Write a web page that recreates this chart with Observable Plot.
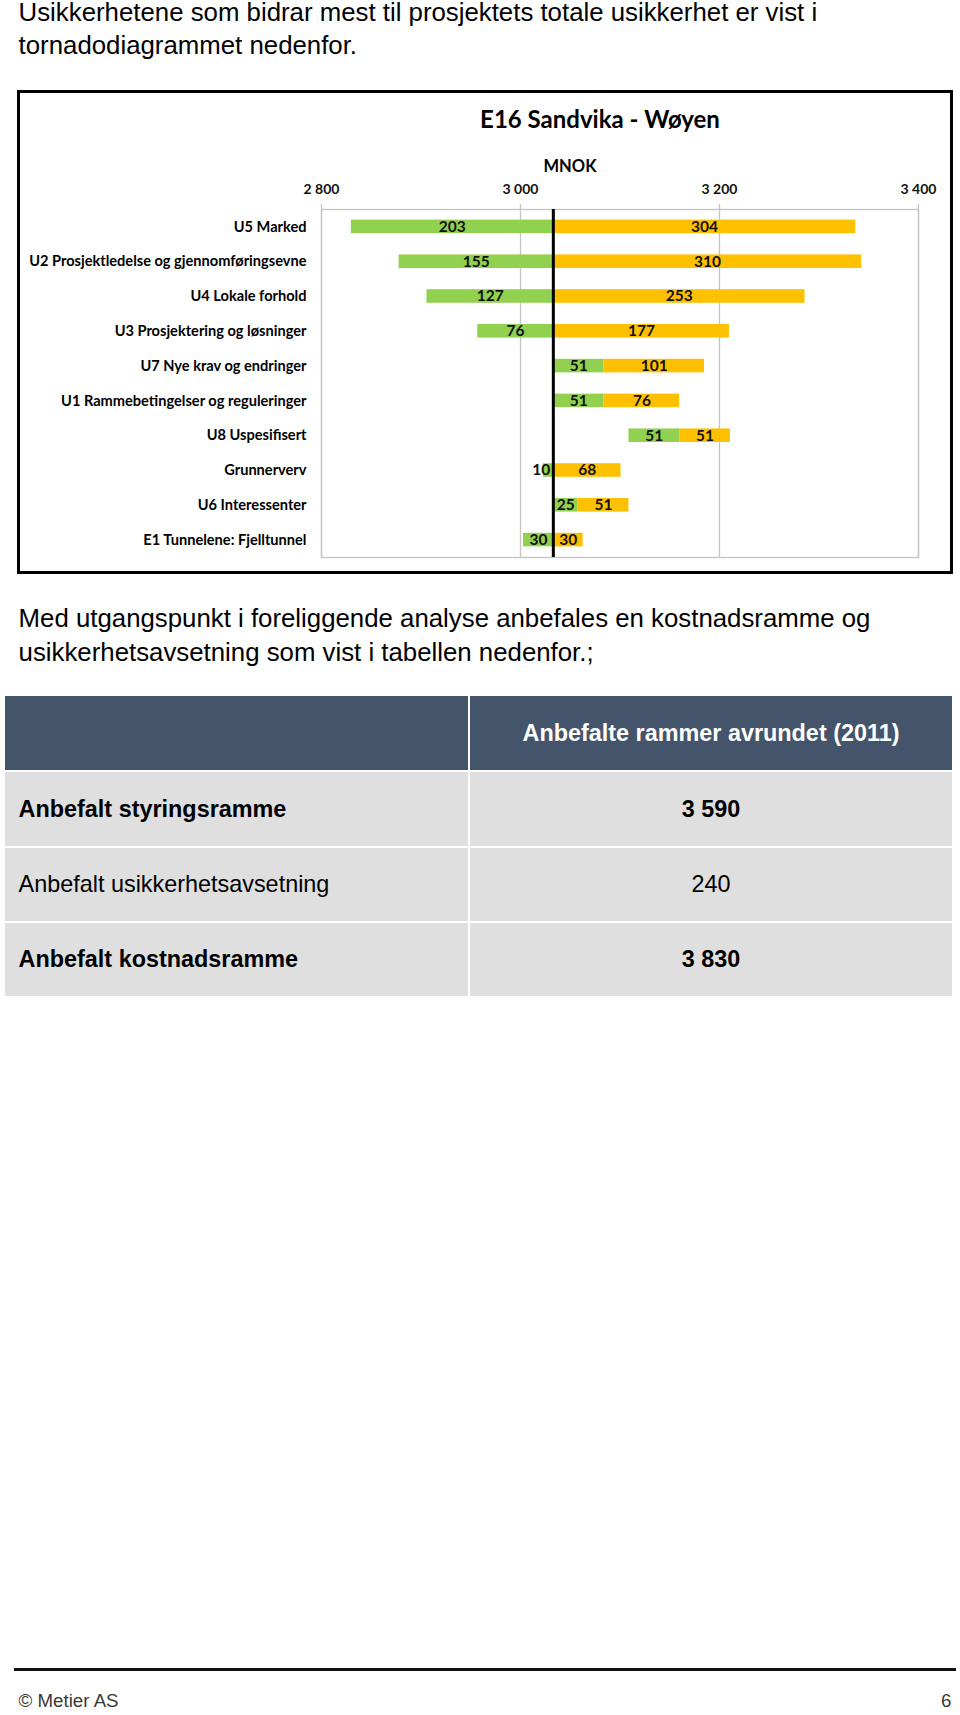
<!DOCTYPE html>
<html><head><meta charset="utf-8">
<script src="https://cdn.jsdelivr.net/npm/d3@7"></script>
<script src="https://cdn.jsdelivr.net/npm/@observablehq/plot@0.6"></script>
<style>
html,body{margin:0;padding:0;background:#fff;}
body{position:relative;width:960px;height:1715px;overflow:hidden;font-family:"Liberation Sans",Arial,sans-serif;color:#000;}
.para{position:absolute;left:18.6px;font-size:25.8px;white-space:nowrap;}
#box{position:absolute;left:17px;top:90px;width:936px;height:484px;border:3px solid #000;box-sizing:border-box;background:#fff;}
#chart{position:absolute;left:0;top:0;}
#overlay{position:absolute;left:0;top:0;pointer-events:none;}
#table{position:absolute;left:5px;top:696px;display:grid;grid-template-columns:463px 482px;grid-template-rows:74px 74px 73px 73px;gap:2px;}
.cell{background:#dfdfdf;display:flex;align-items:center;font-size:23.4px;white-space:nowrap;}
.hdr{background:#44546a;color:#fff;font-weight:bold;}
.lab{padding-left:13.6px;}
.val{justify-content:center;}
#rule{position:absolute;left:14px;top:1668px;width:942px;height:2.5px;background:#111;}
.foot{position:absolute;top:1690px;font-size:18.7px;line-height:22px;color:#3a3a3a;}
</style></head>
<body>
<div class="para" style="top:-3.6px;line-height:33px;">Usikkerhetene som bidrar mest til prosjektets totale usikkerhet er vist i<br>tornadodiagrammet nedenfor.</div>
<div id="box"><div id="chart"></div></div>
<svg id="overlay" width="960" height="200">
  <text x="600" y="127.7" text-anchor="middle" font-family="Lato, 'Open Sans', sans-serif" font-weight="bold" font-size="24" fill="#000">E16 Sandvika - Wøyen</text>
  <text x="570" y="172" text-anchor="middle" font-family="Lato, 'Open Sans', sans-serif" font-weight="bold" font-size="16.5" fill="#000">MNOK</text>
</svg>
<div class="para" style="top:600.5px;line-height:34px;">Med utgangspunkt i foreliggende analyse anbefales en kostnadsramme og<br>usikkerhetsavsetning som vist i tabellen nedenfor.;</div>
<div id="table"></div>
<div id="rule"></div>
<div class="foot" style="left:18.6px;">© Metier AS</div>
<div class="foot" style="right:8.7px;">6</div>
<script>
// ---- chart data ----
const categories = [
  "U5 Marked",
  "U2 Prosjektledelse og gjennomføringsevne",
  "U4 Lokale forhold",
  "U3 Prosjektering og løsninger",
  "U7 Nye krav og endringer",
  "U1 Rammebetingelser og reguleringer",
  "U8 Uspesifisert",
  "Grunnerverv",
  "U6 Interessenter",
  "E1 Tunnelene: Fjelltunnel"
];
const lowValues  = [203, 155, 127, 76, 51, 51, 51, 10, 25, 30];   // green segment
const highValues = [304, 310, 253, 177, 101, 76, 51, 68, 51, 30]; // orange segment
const segmentStart = [2830, 2878, 2906, 2957, 3033, 3033, 3109, 3023, 3033, 3003]; // MNOK where the green segment begins
const baseValue = 3033;
const tickValues = [2800, 3000, 3200, 3400];
const tickLabels = ["2 800", "3 000", "3 200", "3 400"];
const seriesNames = ["low", "high"];
const seriesColors = ["#92D050", "#FFC000"];

// ---- table data ----
const tableHeader = "Anbefalte rammer avrundet (2011)";
const tableLabels = ["Anbefalt styringsramme", "Anbefalt usikkerhetsavsetning", "Anbefalt kostnadsramme"];
const tableValues = ["3 590", "240", "3 830"];
const tableBold = [true, false, true];

const segments = categories.flatMap((c, i) => [
  {category: c, part: "low", x1: segmentStart[i], x2: segmentStart[i] + lowValues[i], value: lowValues[i]},
  {category: c, part: "high", x1: segmentStart[i] + lowValues[i], x2: segmentStart[i] + lowValues[i] + highValues[i], value: highValues[i]}
]);
const narrow = d => d.value < 20;

const chart = Plot.plot({
  width: 930,
  height: 478,
  marginLeft: 301,
  marginRight: 32,
  marginTop: 116,
  marginBottom: 14,
  x: {domain: [2800, 3400]},
  y: {domain: categories, paddingInner: 0.61, paddingOuter: 0.305, round: false},
  color: {domain: seriesNames, range: seriesColors},
  style: {fontFamily: "Lato, 'Open Sans', sans-serif", fontSize: "14px", color: "#000", background: "transparent", overflow: "visible"},
  marks: [
    Plot.ruleX(tickValues, {stroke: "#c4c4c4", strokeWidth: 1.3, insetTop: -5}),
    Plot.frame({stroke: "#c4c4c4", strokeWidth: 1.3}),
    Plot.barX(segments, {y: "category", x1: "x1", x2: "x2", fill: "part"}),
    Plot.ruleX([baseValue], {stroke: "#000", strokeWidth: 3}),
    Plot.text(segments.filter(d => !narrow(d)), {y: "category", x: d => (d.x1 + d.x2) / 2, text: "value", fontSize: 15.5, fontWeight: "bold", fill: "#111"}),
    Plot.text(segments.filter(narrow), {y: "category", x: "x2", text: "value", textAnchor: "end", dx: -3, fontSize: 15.5, fontWeight: "bold", fill: "#111"}),
    Plot.axisX({ticks: tickValues, anchor: "top", tickSize: 0, tickPadding: 16, tickFormat: d => tickLabels[tickValues.indexOf(d)], fontSize: 14, fontWeight: "bold", fill: "#111", label: null}),
    Plot.axisY({anchor: "left", tickSize: 0, tickPadding: 15, fontSize: 14.6, fontWeight: "bold", fill: "#000", label: null})
  ]
});
document.getElementById("chart").appendChild(chart);

// ---- table ----
const table = document.getElementById("table");
function cell(text, cls, bold) {
  const d = document.createElement("div");
  d.className = "cell " + cls;
  if (bold) d.style.fontWeight = "bold";
  d.textContent = text;
  table.appendChild(d);
}
cell("", "hdr");
cell(tableHeader, "hdr val");
tableLabels.forEach((l, i) => {
  cell(l, "lab", tableBold[i]);
  cell(tableValues[i], "val", tableBold[i]);
});
</script>
</body></html>
